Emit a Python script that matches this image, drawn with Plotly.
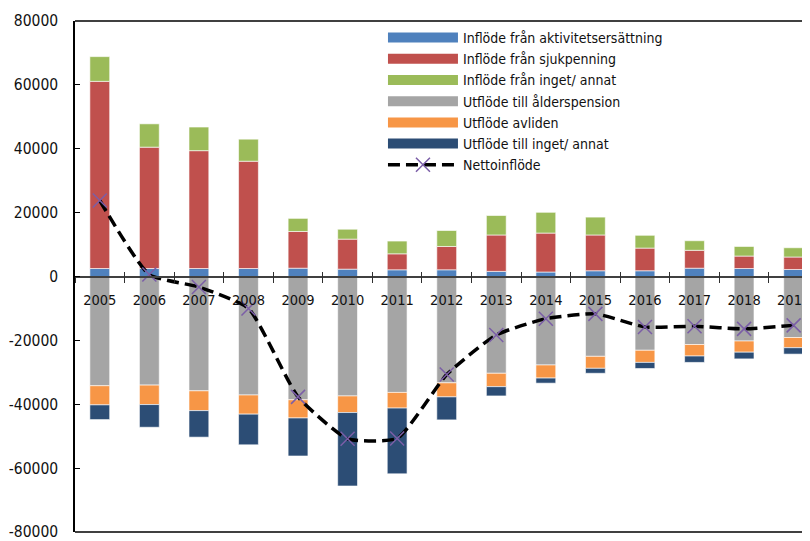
import plotly.graph_objects as go

years = [str(y) for y in range(2005, 2020)]

in_aktivitet = [2500, 2500, 2500, 2500, 2600, 2300, 2100, 2100, 1600, 1400, 1800, 1800, 2600, 2500, 2200]
in_sjuk = [58600, 38000, 36900, 33600, 11500, 9400, 5000, 7300, 11400, 12200, 11200, 7100, 5600, 3900, 3900]
in_annat = [7750, 7300, 7400, 6900, 4100, 3100, 4000, 5000, 6100, 6500, 5600, 4000, 3000, 3000, 2900]
ut_alder = [-34200, -34000, -35800, -37100, -38600, -37400, -36300, -33300, -30300, -27700, -25000, -23100, -21300, -20200, -19100]
ut_avliden = [-6000, -6100, -6200, -6000, -5700, -5200, -4900, -4400, -4200, -4100, -3750, -3800, -3600, -3500, -3200]
ut_annat = [-4600, -7100, -8300, -9600, -11900, -23000, -20600, -7200, -2900, -1600, -1550, -1900, -2000, -2100, -2000]
netto = [23800, 600, -3300, -10000, -37700, -50800, -50700, -30700, -18300, -13200, -11700, -15800, -15600, -16400, -15300]

y_tickvals = [-80000, -60000, -40000, -20000, 0, 20000, 40000, 60000, 80000]
y_ticktext = ["-80000", "-60000", "-40000", "-20000", "0", "20000", "40000", "60000", "80000"]

names = ["Inflöde från aktivitetsersättning", "Inflöde från sjukpenning", "Inflöde från inget/ annat",
         "Utflöde till ålderspension", "Utflöde avliden", "Utflöde till inget/ annat"]
series = [in_aktivitet, in_sjuk, in_annat, ut_alder, ut_avliden, ut_annat]
colors = ["#4F81BD", "#C0504D", "#9BBB59", "#A5A5A5", "#F79646", "#2C4D75"]

FONT = "Liberation Sans Narrow, Arial Narrow, DejaVu Sans Condensed, sans-serif"

fig = go.Figure()
for name, vals, col in zip(names, series, colors):
    fig.add_trace(go.Bar(x=years, y=vals, name=name, marker=dict(color=col, line=dict(color="rgba(255,255,255,0.6)", width=1)),
                         showlegend=False))
    # legend entry drawn as a wide bar-like swatch
    fig.add_trace(go.Scatter(x=[None], y=[None], mode="lines", name=name,
                             line=dict(color=col, width=10), hoverinfo="skip"))

fig.add_trace(go.Scatter(x=years, y=netto, name="Nettoinflöde", mode="lines+markers", xaxis="x2",
                         line=dict(color="black", width=3.5, dash="12px,6px", shape="spline", smoothing=0.5),
                         marker=dict(symbol="x-thin", size=14, line=dict(color="#7B5EA7", width=1.5), color="#7B5EA7")))

fig.update_layout(
    width=802, height=533,
    margin=dict(l=67, r=0, t=13, b=7),
    paper_bgcolor="white", plot_bgcolor="white",
    barmode="relative", bargap=0.6,
    font=dict(family=FONT, size=15.5, color="#111111"),
    legend=dict(x=0.419, y=0.998, xanchor="left", yanchor="top", bgcolor="rgba(0,0,0,0)",
                itemwidth=70, tracegroupgap=0, font=dict(size=14)),
    xaxis=dict(type="category", range=[-0.5, 14.33], anchor="free", position=0.5,
               showline=True, linecolor="#404040", linewidth=1.5, tickfont=dict(size=14.5),
               ticks="outside", tickson="boundaries", ticklen=6, tickcolor="#303030", tickwidth=1,
               ticklabelstandoff=10, showgrid=False, zeroline=False),
    xaxis2=dict(type="category", matches="x", overlaying="x", anchor="free", position=0.5,
                showline=False, ticks="inside", tickson="boundaries", ticklen=5, tickcolor="#303030", tickwidth=1,
                showticklabels=False, showgrid=False, zeroline=False),
    yaxis=dict(range=[-80000, 80000], tickvals=y_tickvals, ticktext=y_ticktext, showgrid=False, zeroline=False,
               showline=True, linecolor="black", linewidth=1.5, ticklabeloverflow="allow",
               ticks="inside", ticklen=5, tickcolor="black", ticklabelstandoff=12),
    shapes=[
        dict(type="line", xref="paper", yref="paper", x0=0, x1=1, y0=1, y1=1, line=dict(color="black", width=1.5)),
        dict(type="line", xref="paper", yref="paper", x0=0, x1=1, y0=0, y1=0, line=dict(color="black", width=1.5)),
    ],
)

fig.write_html("out.html")
